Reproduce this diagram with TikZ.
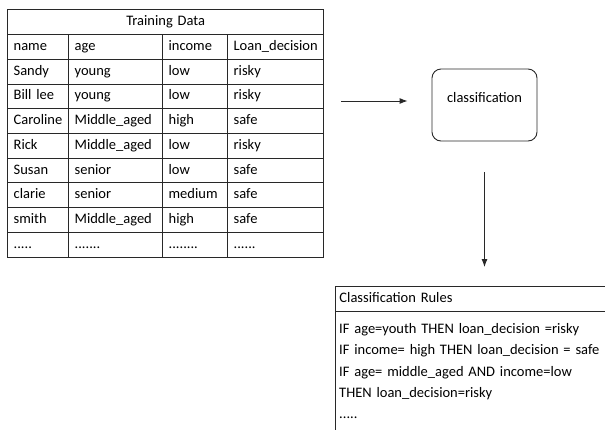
\documentclass[tikz,border=0pt]{standalone}
\usepackage{fontspec}
\setmainfont{Carlito}
\usepackage{tikz}
\usetikzlibrary{arrows.meta,positioning,matrix}
\definecolor{tblline}{RGB}{40,40,40}

\begin{document}
\begin{tikzpicture}[x=1pt, y=-1pt, >={Latex[length=8pt,width=6pt]},
  txt/.style={font=\fontsize{14.5}{17}\selectfont},
  cell/.style={txt, draw=tblline, line width=0.9pt, minimum height=24.7pt,
               inner xsep=6pt, inner ysep=0pt, text height=10.5pt, text depth=3.5pt, align=left},
  headcell/.style={cell, minimum width=316pt, text width=304pt, align=center},
  procbox/.style={txt, draw=tblline, line width=0.9pt, rounded corners=9pt,
                  minimum width=105pt, minimum height=72pt, text height=10pt, text depth=16pt},
  rulebox/.style={draw=tblline, line width=0.9pt, minimum width=290pt, minimum height=160pt},
  rulehead/.style={cell, inner xsep=4pt, minimum width=290pt, text width=282pt},
  ruleline/.style={txt, inner sep=0pt, minimum height=21pt, text height=10.5pt,
                   text depth=3.5pt, text width=265pt, align=left},
  link/.style={->, draw=tblline, line width=0.9pt}]
\clip (0,0) rectangle (605,429);
\fill[white] (0,0) rectangle (605,429);
% training data table
\matrix (tbl) [matrix of nodes, anchor=north west, inner sep=0pt, row sep=-0.9pt, column sep=-0.9pt,
  nodes={cell},
  column 1/.style={nodes={text width=49pt}},
  column 2/.style={nodes={text width=82pt}},
  column 3/.style={nodes={text width=53pt}},
  column 4/.style={nodes={text width=84pt}}] at (7,34) {
  name & age & income & Loan\_decision \\
  Sandy & young & low & risky \\
  Bill lee & young & low & risky \\
  Caroline & Middle\_aged & high & safe \\
  Rick & Middle\_aged & low & risky \\
  Susan & senior & low & safe \\
  clarie & senior & medium & safe \\
  smith & Middle\_aged & high & safe \\
  ..... & ....... & ........ & ...... \\
};
\node[headcell, above=-0.9pt of tbl] (title) {Training Data};
% classifier
\node[procbox] (cls) at (484.5,105) {classification};
% rules
\node[rulebox, anchor=north west] (rules) at (335,286) {};
\node[rulehead, anchor=north west] (rhead) at (rules.north west) {Classification Rules};
\node[ruleline, below right=7.5pt and 4pt of rhead.south west] (r1) {IF age=youth THEN loan\_decision =risky};
\node[ruleline, below=0pt of r1] (r2) {IF income= high THEN loan\_decision = safe};
\node[ruleline, below=0pt of r2] (r3) {IF age= middle\_aged AND income=low};
\node[ruleline, below=0pt of r3] (r4) {THEN loan\_decision=risky};
\node[ruleline, below=0pt of r4] (r5) {.....};
\coordinate (inpt) at ([yshift=4pt]cls.west);
\draw[link, shorten <=17pt, shorten >=24pt] (tbl.east |- inpt) -- (inpt);
\draw[link, shorten <=31pt, shorten >=19pt] (cls.south) -- (cls.south |- rules.north);
\end{tikzpicture}
\end{document}
